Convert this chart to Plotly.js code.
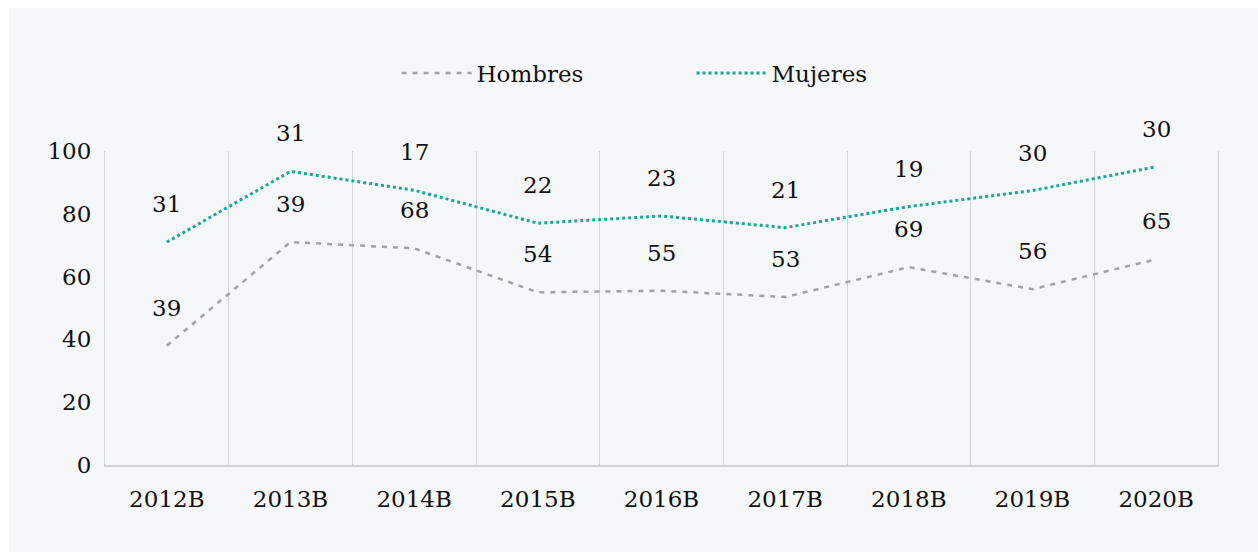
<!DOCTYPE html>
<html>
<head>
<meta charset="utf-8">
<script src="https://cdn.plot.ly/plotly-3.0.1.min.js"></script>
<style>
  html, body { margin: 0; padding: 0; background: #ffffff; }
  #chart { position: absolute; left: 9px; top: 8px; width: 1249px; height: 544px; }
</style>
</head>
<body>
<div id="chart"></div>
<script>
const categories = ["2012B", "2013B", "2014B", "2015B", "2016B", "2017B", "2018B", "2019B", "2020B"];
const hombres = [38, 71, 69, 55, 55.5, 53.5, 63, 56, 65.5];
const mujeres = [71, 93.5, 87.5, 77, 79.3, 75.6, 82.3, 87.4, 95];
const hombresLabels = ["39", "39", "68", "54", "55", "53", "69", "56", "65"];
const mujeresLabels = ["31", "31", "17", "22", "23", "21", "19", "30", "30"];
const yTicks = [0, 20, 40, 60, 80, 100];

const FONT = "DejaVu Serif";
const FS = 23;

const traces = [
  {
    x: categories, y: hombres, name: "Hombres", type: "scatter", mode: "lines",
    line: { color: "#a3a3a3", width: 2.5, dash: "5px,6px" }
  },
  {
    x: categories, y: mujeres, name: "Mujeres", type: "scatter", mode: "lines",
    line: { color: "#17a897", width: 3, dash: "3px,3px" }
  }
];

const annotations = [];
categories.forEach((c, i) => {
  annotations.push({ x: c, y: hombres[i], text: hombresLabels[i], showarrow: false, yshift: 38,
    font: { family: FONT, size: FS, color: "#111111" } });
  annotations.push({ x: c, y: mujeres[i], text: mujeresLabels[i], showarrow: false, yshift: 38,
    font: { family: FONT, size: FS, color: "#111111" } });
});

const layout = {
  width: 1249, height: 544,
  margin: { l: 96, r: 40, t: 143, b: 87 },
  paper_bgcolor: "#f6f7f9",
  plot_bgcolor: "#f6f7f9",
  font: { family: FONT, size: FS, color: "#111111" },
  showlegend: true,
  legend: {
    orientation: "h", x: 0.527, xanchor: "center", y: 1.248, yanchor: "middle",
    font: { family: FONT, size: FS, color: "#111111" },
    bgcolor: "rgba(0,0,0,0)", itemwidth: 70, entrywidth: 210, traceorder: "normal"
  },
  xaxis: {
    type: "category", range: [-0.5, 8.5], tickson: "boundaries", showgrid: true, gridcolor: "#d3d3d3", gridwidth: 1,
    ticks: "", showline: true, linecolor: "#d3d3d3", linewidth: 2, mirror: false,
    zeroline: false, ticklabelstandoff: 12, fixedrange: true,
    tickfont: { family: FONT, size: FS, color: "#111111" }
  },
  yaxis: {
    range: [0, 100], tickvals: yTicks, ticktext: yTicks.map(String), showgrid: false, zeroline: false,
    showline: true, linecolor: "#d3d3d3", linewidth: 1, mirror: true, ticks: "", ticklabelstandoff: 8, fixedrange: true,
    tickfont: { family: FONT, size: FS, color: "#111111" }
  },
  annotations: annotations
};

Plotly.newPlot("chart", traces, layout, { displayModeBar: false, staticPlot: true });
</script>
</body>
</html>
